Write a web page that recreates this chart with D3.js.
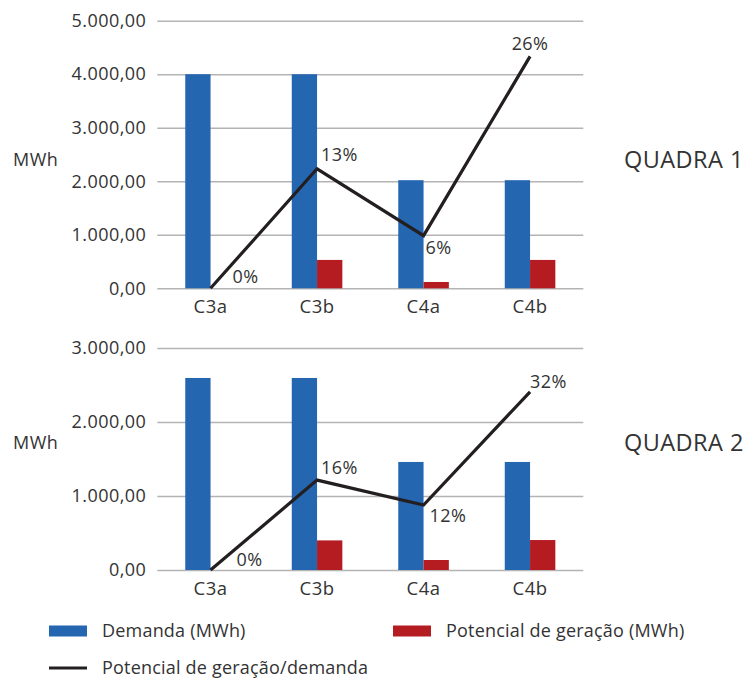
<!DOCTYPE html>
<html>
<head>
<meta charset="utf-8">
<script src="https://cdn.jsdelivr.net/npm/d3@7"></script>
<style>
  html, body { margin: 0; padding: 0; background: #fff; }
  svg text { font-family: "Open Sans", "Noto Sans", sans-serif; fill: #333; letter-spacing: 0.45px; }
  svg .legtext { letter-spacing: 0.2px; }
</style>
</head>
<body>
<svg id="chart" width="744" height="680"></svg>
<script>
// ---- data ----
const categories = ["C3a", "C3b", "C4a", "C4b"];
const q1Demanda = [4000, 4000, 2020, 2020];
const q1Potencial = [0, 530, 118, 530];
const q1Razao = [0, 0.134, 0.059, 0.26];
const q1Ticks = [0, 1000, 2000, 3000, 4000, 5000];

const q2Demanda = [2595, 2595, 1460, 1460];
const q2Potencial = [0, 400, 135, 405];
const q2Razao = [0, 0.162, 0.117, 0.321];
const q2Ticks = [0, 1000, 2000, 3000];

const seriesNames = ["Demanda (MWh)", "Potencial de geração (MWh)", "Potencial de geração/demanda"];

// ---- style / layout ----
const BLUE = "#2566b1", RED = "#b51c22", LINE = "#231f20", GRID = "#b4b4b4";
const svg = d3.select("#chart");
const locale = d3.formatLocale({decimal: ",", thousands: ".", grouping: [3], currency: ["R$", ""]});
const fmtNum = locale.format(",.2f");
const fmtPct = d3.format(".0%");

const x = d3.scaleBand().domain(categories).range([157.3, 583.3])
  .paddingInner(0.525).paddingOuter(0.2625);
const xSub = d3.scaleBand().domain(["d", "p"]).range([0, x.bandwidth()]);

function drawPanel(cfg) {
  const g = svg.append("g");
  const y = d3.scaleLinear().domain([0, cfg.yMax]).range([cfg.bottom, cfg.top]);
  const yR = d3.scaleLinear().domain([0, cfg.rMax]).range([cfg.bottom, cfg.top]);

  // grid + tick labels via axis
  const axis = d3.axisLeft(y).tickValues(cfg.ticks).tickFormat(fmtNum)
    .tickSize(-(x.range()[1] - x.range()[0])).tickPadding(11);
  const ag = g.append("g").attr("transform", `translate(${x.range()[0]},0)`).call(axis);
  ag.select(".domain").remove();
  ag.selectAll(".tick line").attr("stroke", GRID).attr("stroke-width", 1.4);
  ag.selectAll(".tick text").attr("font-size", 18).attr("fill", "#333")
    .attr("font-family", "'Open Sans', sans-serif");

  // bars
  const rows = categories.map((c, i) => ({c, d: cfg.dem[i], p: cfg.pot[i], r: cfg.raz[i], i}));
  g.selectAll(".bd").data(rows).enter().append("rect")
    .attr("x", d => x(d.c) + xSub("d")).attr("width", xSub.bandwidth())
    .attr("y", d => y(d.d)).attr("height", d => y(0) - y(d.d)).attr("fill", BLUE);
  g.selectAll(".bp").data(rows).enter().append("rect")
    .attr("x", d => x(d.c) + xSub("p")).attr("width", xSub.bandwidth())
    .attr("y", d => y(d.p)).attr("height", d => y(0) - y(d.p)).attr("fill", RED);

  // x axis labels
  const xa = d3.axisBottom(x).tickSize(0).tickPadding(12);
  const xg = g.append("g").attr("transform", `translate(0,${cfg.bottom})`).call(xa);
  xg.select(".domain").remove();
  xg.selectAll(".tick text").attr("font-size", 18.5).attr("fill", "#333")
    .attr("font-family", "'Open Sans', sans-serif");

  // line
  const line = d3.line().x(d => x(d.c) + x.bandwidth() / 2).y(d => yR(d.r));
  g.append("path").datum(rows).attr("d", line).attr("fill", "none")
    .attr("stroke", LINE).attr("stroke-width", 3.2).attr("stroke-linejoin", "miter");

  // line labels
  g.selectAll(".lbl").data(rows).enter().append("text")
    .attr("x", d => x(d.c) + x.bandwidth() / 2 + cfg.lab[d.i][0])
    .attr("y", d => yR(d.r) + cfg.lab[d.i][1])
    .attr("dy", "0.35em")
    .attr("text-anchor", d => cfg.lab[d.i][2])
    .attr("font-size", 18)
    .text(d => fmtPct(d.r));

  // MWh + title
  g.append("text").attr("x", 13).attr("y", cfg.midY).attr("dy", "0.35em")
    .attr("font-size", 18).text("MWh");
  g.append("text").attr("x", 624).attr("y", cfg.midY).attr("dy", "0.35em")
    .attr("font-size", 23.5).text(cfg.title);
}

drawPanel({top: 20.7, bottom: 288.3, yMax: 5000, rMax: 0.30, ticks: q1Ticks,
  dem: q1Demanda, pot: q1Potencial, raz: q1Razao, midY: 160, title: "QUADRA 1",
  lab: [[22, -12, "start"], [4, -14, "start"], [2, 12, "start"], [0, -13, "middle"]]});
drawPanel({top: 348, bottom: 570, yMax: 3000, rMax: 0.40, ticks: q2Ticks,
  dem: q2Demanda, pot: q2Potencial, raz: q2Razao, midY: 443, title: "QUADRA 2",
  lab: [[26, -10, "start"], [4, -12, "start"], [6, 11, "start"], [0, -10, "start"]]});

// legend
const leg = svg.append("g");
const legItems = [
  {name: seriesNames[0], type: "rect", color: BLUE, x: 49, y: 631},
  {name: seriesNames[1], type: "rect", color: RED, x: 393, y: 631},
  {name: seriesNames[2], type: "line", color: LINE, x: 49, y: 668}
];
legItems.forEach(it => {
  if (it.type === "rect") {
    leg.append("rect").attr("x", it.x).attr("y", it.y - 5.5).attr("width", 38).attr("height", 11).attr("fill", it.color);
  } else {
    leg.append("line").attr("x1", it.x).attr("x2", it.x + 38).attr("y1", it.y).attr("y2", it.y)
      .attr("stroke", it.color).attr("stroke-width", 3.2);
  }
  leg.append("text").attr("class", "legtext").attr("x", it.x + 53).attr("y", it.y).attr("dy", "0.35em")
    .attr("font-size", 18).text(it.name);
});
</script>
</body>
</html>
